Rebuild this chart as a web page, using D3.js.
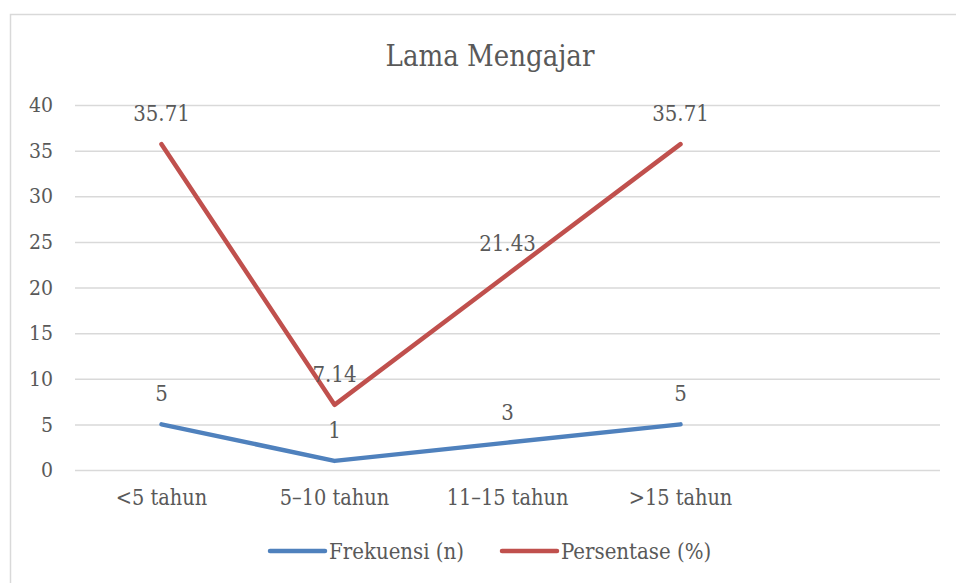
<!DOCTYPE html>
<html><head><meta charset="utf-8">
<script src="https://cdn.jsdelivr.net/npm/d3@7"></script>
<style>body{margin:0;background:#fff}svg text{font-family:"DejaVu Serif Condensed","DejaVu Serif",serif;fill:#595959}</style>
</head><body><svg id="c" width="956" height="583"></svg>
<script>
const categories = ["<5 tahun", "5–10 tahun", "11–15 tahun", ">15 tahun", ""];
const frekuensi = [5, 1, 3, 5];
const persentase = [35.71, 7.14, 21.43, 35.71];
const yTicks = [0, 5, 10, 15, 20, 25, 30, 35, 40];
const seriesNames = ["Frekuensi (n)", "Persentase (%)"];
const colors = ["#4F81BD", "#C0504D"];
const title = "Lama Mengajar";

const svg = d3.select("#c");
svg.append("rect").attr("x", 10.5).attr("y", 14.5).attr("width", 960).attr("height", 580)
  .attr("fill", "#fff").attr("stroke", "#d9d9d9").attr("stroke-width", 1.5);

const x = d3.scaleBand().domain(categories.map((c,i)=>i)).range([75, 940]);
const y = d3.scaleLinear().domain([0, 40]).range([470, 105]);

svg.append("text").attr("x", 490).attr("y", 66).attr("text-anchor", "middle")
  .style("font-size", "29px").text(title);

const yAxis = svg.append("g").attr("transform", "translate(75,0)")
  .call(d3.axisLeft(y).tickValues(yTicks).tickSize(-865).tickPadding(22));
yAxis.select(".domain").remove();
yAxis.selectAll("line").attr("stroke", "#d9d9d9").attr("stroke-width", 1.5);
yAxis.selectAll("text").style("font-size", "21px").attr("fill", "#595959").attr("font-family", null);

const xAxis = svg.append("g").attr("transform", "translate(0,470)")
  .call(d3.axisBottom(x).tickFormat(i => categories[i]).tickSize(0).tickPadding(20));
xAxis.select(".domain").remove();
xAxis.selectAll("text").style("font-size", "21.5px").attr("fill", "#595959").attr("font-family", null);

const cx = i => x(i) + x.bandwidth() / 2;
const line = d3.line().x((d, i) => cx(i)).y(d => y(d));
[frekuensi, persentase].forEach((data, k) => {
  svg.append("path").datum(data).attr("d", line).attr("fill", "none")
    .attr("stroke", colors[k]).attr("stroke-width", 4.5).attr("stroke-linecap", "round").attr("stroke-linejoin", "round");
});
[frekuensi, persentase].forEach((data, k) => {
  svg.append("g").selectAll("text").data(data).join("text")
    .attr("x", (d, i) => cx(i)).attr("y", d => y(d) - 23)
    .attr("text-anchor", "middle").style("font-size", "22px")
    .text(d => k === 0 ? d : d.toFixed(2));
});

const legendX = [270, 502];
seriesNames.forEach((n, k) => {
  const g = svg.append("g").attr("transform", `translate(${legendX[k]},551)`);
  g.append("line").attr("x1", 0).attr("x2", 55).attr("stroke", colors[k]).attr("stroke-width", 4.5).attr("stroke-linecap", "round");
  g.append("text").attr("x", 59).attr("y", 8).style("font-size", "22px").text(n);
});
</script></body></html>
